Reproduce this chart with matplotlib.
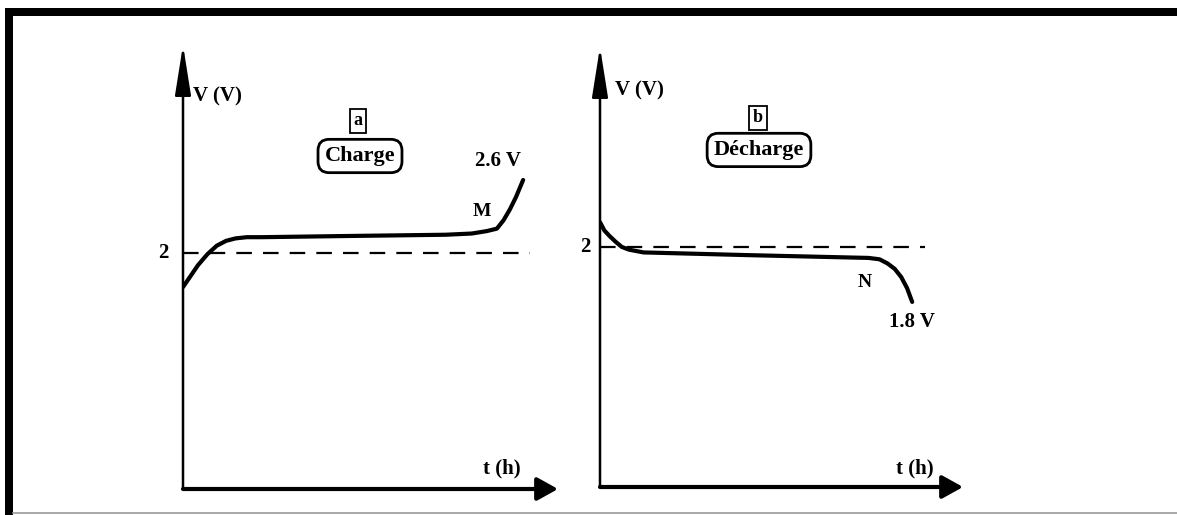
import matplotlib
matplotlib.use("Agg")
from matplotlib import pyplot as plt
from matplotlib.patches import Rectangle
from matplotlib.lines import Line2D

# Charge curve (t in h, V in volts)
t_charge = [0.0, 0.20, 0.40, 0.65, 0.90, 1.15, 1.40, 1.70, 2.10, 4.45, 7.00, 7.70, 8.10,
            8.37, 8.55, 8.72, 8.88, 9.07]
v_charge = [1.72, 1.81, 1.90, 1.99, 2.06, 2.10, 2.12, 2.13, 2.13, 2.14, 2.15, 2.16, 2.18,
            2.20, 2.27, 2.36, 2.46, 2.60]

# Discharge curve
t_discharge = [0.0, 0.12, 0.26, 0.42, 0.60, 0.80, 1.20, 4.13, 7.40, 7.70, 7.92, 8.12, 8.30,
               8.46, 8.60]
v_discharge = [2.09, 2.06, 2.04, 2.02, 2.00, 1.99, 1.98, 1.97, 1.96, 1.955, 1.94, 1.92, 1.89,
               1.85, 1.80]

v_ref = 2.0
t_ref_charge = [0.0, 9.25]
t_ref_discharge = [0.0, 8.95]

v_end_charge = 2.6
v_end_discharge = 1.8

W, H = 1177, 515
plt.rcParams['font.family'] = ['Liberation Serif', 'DejaVu Serif']
plt.rcParams['font.weight'] = 'bold'

fig = plt.figure(figsize=(W / 100, H / 100), dpi=100)


def px_axes(x0, x1, y0, y1):
    # y0 is the top pixel row, y1 the bottom one
    return fig.add_axes([x0 / W, 1 - y1 / H, (x1 - x0) / W, (y1 - y0) / H])


def draw_frame(ax):
    ax.set_xlim(0, 10)
    ax.axis("off")
    # vertical axis with a long narrow head
    ax.annotate("", xy=(0, 1), xytext=(0, 0), xycoords="axes fraction",
                arrowprops=dict(arrowstyle="-|>,head_length=2.2,head_width=0.35",
                                lw=1.8, color="black", mutation_scale=14,
                                shrinkA=0, shrinkB=0))
    # horizontal axis
    ax.annotate("", xy=(1, 0), xytext=(0, 0), xycoords="axes fraction",
                arrowprops=dict(arrowstyle="-|>,head_length=0.9,head_width=0.5",
                                lw=3, color="black", mutation_scale=14,
                                shrinkA=0, shrinkB=0))


box_sq = dict(boxstyle="square,pad=0.2", fc="white", ec="black", lw=1.3)
box_rd = dict(boxstyle="round,pad=0.3,rounding_size=0.5", fc="white", ec="black", lw=2.0)

# --- panel a : charge ---
ax1 = px_axes(183, 558, 45, 489)
draw_frame(ax1)
ax1.set_ylim(0.061, 3.709)
ax1.plot(t_ref_charge, [v_ref, v_ref], color="black", lw=1.6, dashes=(7, 5))
ax1.plot(t_charge, v_charge, color="black", lw=3.0, solid_capstyle="round")
ax1.text(0.093, 0.883, "V (V)", transform=ax1.transAxes, ha="center", va="center", fontsize=15)
ax1.text(0.467, 0.829, "a", transform=ax1.transAxes, ha="center", va="center", fontsize=13, bbox=box_sq)
ax1.text(0.472, 0.75, "Charge", transform=ax1.transAxes, ha="center", va="center", fontsize=16, bbox=box_rd)
ax1.text(8.4, v_end_charge + 0.16, f"{v_end_charge} V", ha="center", va="center", fontsize=15)
ax1.text(7.97, 2.34, "M", ha="center", va="center", fontsize=14)
ax1.text(-0.53, v_ref, "2", ha="center", va="center", fontsize=15)
ax1.text(0.85, 0.047, "t (h)", transform=ax1.transAxes, ha="center", va="center", fontsize=15)

# --- panel b : discharge ---
ax2 = px_axes(600, 963, 47, 487)
draw_frame(ax2)
ax2.set_ylim(1.127, 2.727)
ax2.plot(t_ref_discharge, [v_ref, v_ref], color="black", lw=1.6, dashes=(7, 5))
ax2.plot(t_discharge, v_discharge, color="black", lw=3.0, solid_capstyle="round")
ax2.text(0.11, 0.902, "V (V)", transform=ax2.transAxes, ha="center", va="center", fontsize=15)
ax2.text(0.435, 0.839, "b", transform=ax2.transAxes, ha="center", va="center", fontsize=13, bbox=box_sq)
ax2.text(0.438, 0.766, "Décharge", transform=ax2.transAxes, ha="center", va="center", fontsize=16, bbox=box_rd)
ax2.text(7.3, 1.869, "N", ha="center", va="center", fontsize=14)
ax2.text(8.6, v_end_discharge - 0.073, f"{v_end_discharge} V", ha="center", va="center", fontsize=15)
ax2.text(-0.41, v_ref, "2", ha="center", va="center", fontsize=15)
ax2.text(0.868, 0.043, "t (h)", transform=ax2.transAxes, ha="center", va="center", fontsize=15)

# page frame: heavy top and left rules, thin grey base line
fig.add_artist(Rectangle((5 / W, 1 - 16 / H), 1 - 5 / W, 8 / H, transform=fig.transFigure,
                         fc="black", ec="none"))
fig.add_artist(Rectangle((5 / W, 0), 8 / W, 1 - 8 / H, transform=fig.transFigure,
                         fc="black", ec="none"))
fig.add_artist(Line2D([13 / W, 1], [1 - 512.5 / H, 1 - 512.5 / H], transform=fig.transFigure,
                      color="#999999", lw=1.2))

fig.savefig("out.png", dpi=100)
